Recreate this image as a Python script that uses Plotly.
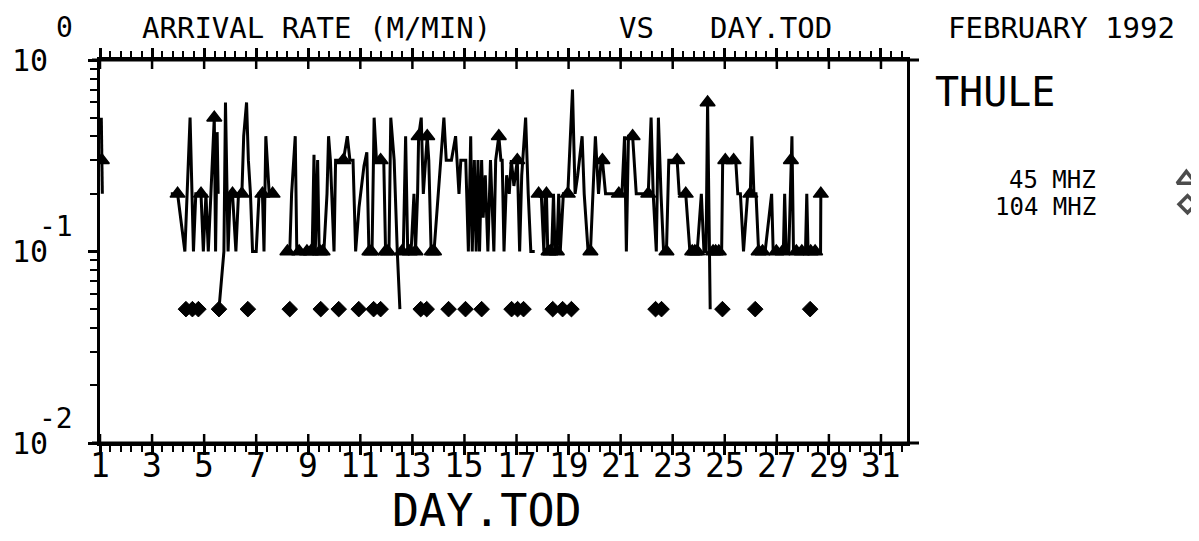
import math
import plotly.graph_objects as go

# ---------------- data ----------------
# 45 MHz arrival rate (M/MIN) vs day of February 1992; None = break in the trace
DAY_45 = [
    1.05, 1.07, 1.09, None,
    3.72, 3.98, 4.26, 4.46, 4.59, 4.68, 4.88, 4.97, 5.07, 5.16, 5.26, 5.39, 5.44, 5.50, 5.54, None,
    5.57, 5.76, 5.82, 5.92, 6.00, 6.09, 6.22, 6.32, 6.45, 6.52, 6.63, 6.70, 6.78, 6.86, 7.00, 7.11,
    7.24, 7.30, 7.37, 7.50, 7.63, None,
    8.12, 8.29, 8.36, 8.50, 8.56, 8.75, 8.95, 9.15, 9.22, 9.27, 9.36, 9.42, 9.60, 9.72, 9.78, 9.85,
    9.99, 10.05, 10.20, 10.35, 10.50, 10.60, 10.72, 10.82, 10.95, 11.14, 11.25, 11.33, 11.45, 11.53,
    11.62, 11.78, 11.90, 11.97, 12.10, 12.17, 12.30, 12.42, 12.52, None,
    12.55, 12.65, 12.74, 12.82, 12.95, 13.06, 13.12, 13.20, 13.24, 13.34, 13.42, 13.50, 13.57, 13.63,
    13.72, 13.83, 14.09, 14.21, 14.30, 14.50, 14.66, 14.72, 14.79, 14.86, 15.05, 15.15, 15.24, 15.30,
    15.38, 15.45, 15.52, 15.58, 15.66, 15.72, 15.80, 15.90, 16.00, 16.13, 16.20, 16.32, 16.40, 16.45,
    16.52, 16.62, 16.72, 16.80, 16.90, 17.03, 17.12, 17.20, 17.35, 17.45, 17.55, 17.70, None,
    17.82, 17.95, 18.05, 18.10, 18.15, 18.20, 18.35, 18.42, 18.48, 18.55, 18.62, 18.68, 18.80, 18.97,
    19.15, 19.25, 19.35, 19.52, 19.60, 19.75, 19.84, 20.03, 20.15, 20.25, 20.30, 20.42, 20.70, 20.93,
    21.05, 21.15, 21.22, 21.30, 21.46, 21.60, 21.85, 22.06, 22.17, 22.25, 22.37, 22.45, 22.55, 22.65,
    22.76, 22.85, 23.00, 23.17, 23.25, 23.40, 23.50, 23.66, 23.94, 24.10, 24.20, 24.28, 24.34, 24.44, None,
    24.45, 24.60, 24.77, 24.88, 24.92, 25.02, 25.20, 25.34, 25.42, 25.50, 25.60, 25.72, 25.88, 25.98,
    26.04, 26.12, 26.20, 26.30, 26.55, 26.80, 26.86, 27.10, 27.25, 27.30, 27.36, 27.46, 27.54, 27.58,
    27.64, 27.80, 28.10, 28.15, 28.20, 28.50, 28.68, 28.69,
]
RATE_45 = [
    0.5, 0.3, 0.2, None,
    0.2, 0.2, 0.1, 0.5, 0.1, 0.2, 0.2, 0.1, 0.2, 0.1, 0.2, 0.5, 0.1, 0.42, 0.2, None,
    0.05, 0.1, 0.6, 0.1, 0.2, 0.2, 0.1, 0.2, 0.2, 0.4, 0.6, 0.3, 0.2, 0.1, 0.1, 0.2,
    0.2, 0.1, 0.4, 0.2, 0.2, None,
    0.1, 0.1, 0.2, 0.4, 0.1, 0.1, 0.1, 0.1, 0.32, 0.1, 0.3, 0.1, 0.1, 0.2, 0.4, 0.3,
    0.1, 0.3, 0.3, 0.3, 0.4, 0.3, 0.3, 0.1, 0.17, 0.28, 0.33, 0.1, 0.1, 0.5,
    0.3, 0.3, 0.3, 0.1, 0.1, 0.5, 0.3, 0.1, 0.05, None,
    0.1, 0.1, 0.4, 0.1, 0.1, 0.2, 0.1, 0.2, 0.4, 0.5, 0.2, 0.3, 0.4, 0.3,
    0.1, 0.1, 0.3, 0.5, 0.3, 0.3, 0.4, 0.3, 0.2, 0.3, 0.3, 0.1, 0.4, 0.1,
    0.3, 0.1, 0.3, 0.1, 0.3, 0.15, 0.25, 0.1, 0.3, 0.1, 0.3, 0.4, 0.3, 0.3,
    0.1, 0.25, 0.2, 0.3, 0.22, 0.3, 0.1, 0.25, 0.5, 0.2, 0.1, 0.1, None,
    0.2, 0.2, 0.1, 0.2, 0.2, 0.1, 0.1, 0.2, 0.1, 0.1, 0.2, 0.1, 0.2, 0.2,
    0.7, 0.2, 0.25, 0.4, 0.2, 0.1, 0.1, 0.4, 0.2, 0.3, 0.3, 0.2, 0.2, 0.2,
    0.2, 0.4, 0.1, 0.4, 0.4, 0.2, 0.2, 0.2, 0.5, 0.2, 0.1, 0.5, 0.2, 0.1,
    0.1, 0.3, 0.3, 0.3, 0.2, 0.2, 0.2, 0.1, 0.1, 0.2, 0.1, 0.1, 0.6, 0.05, None,
    0.1, 0.1, 0.1, 0.1, 0.3, 0.3, 0.3, 0.3, 0.3, 0.2, 0.2, 0.1, 0.2, 0.2,
    0.4, 0.2, 0.2, 0.1, 0.1, 0.2, 0.1, 0.1, 0.1, 0.2, 0.1, 0.1, 0.3, 0.4,
    0.1, 0.1, 0.1, 0.2, 0.1, 0.1, 0.1, 0.2,
]
# points of the 45 MHz trace that carry the triangle symbol
TRI_DAY = [1.07, 3.98, 4.88, 5.39, 6.09, 6.45, 7.24, 7.63, 8.20, 8.65, 8.95, 9.10, 9.45, 9.55,
           10.35, 11.35, 11.42, 11.78, 11.97, 12.06, 12.60, 12.90, 13.12, 13.24, 13.57, 13.75,
           13.83, 16.32, 17.03, 17.85, 18.15, 18.23, 18.30, 18.55, 18.97, 19.84, 20.30, 20.93,
           21.46, 22.06, 22.76, 23.17, 23.50, 23.75, 23.85, 23.94, 24.34, 24.55, 24.65, 24.77,
           25.02, 25.34, 25.98, 26.30, 26.45, 26.98, 27.22, 27.54, 27.75, 27.96, 28.30, 28.47,
           28.69]
TRI_RATE = [0.3, 0.2, 0.2, 0.5, 0.2, 0.2, 0.2, 0.2, 0.1, 0.1, 0.1, 0.1, 0.1, 0.1,
            0.3, 0.1, 0.1, 0.3, 0.1, 0.1, 0.1, 0.1, 0.1, 0.4, 0.4, 0.1,
            0.1, 0.4, 0.3, 0.2, 0.2, 0.1, 0.1, 0.1, 0.2, 0.1, 0.3, 0.2,
            0.4, 0.2, 0.1, 0.3, 0.2, 0.1, 0.1, 0.1, 0.6, 0.1, 0.1, 0.1,
            0.3, 0.3, 0.2, 0.1, 0.1, 0.1, 0.1, 0.3, 0.1, 0.1, 0.1, 0.1,
            0.2]

# 104 MHz arrival rate (M/MIN)
DAY_104 = [4.30, 4.55, 4.78, 5.57, 6.68, 8.29, 9.48, 10.17, 10.94, 11.51, 11.78, 13.32, 13.55,
           14.39, 15.04, 15.66, 16.81, 17.04, 17.27, 18.39, 18.77, 19.11, 22.34, 22.57, 24.91,
           26.17, 28.28]
RATE_104 = [0.05, 0.05, 0.05, 0.05, 0.05, 0.05, 0.05, 0.05, 0.05, 0.05, 0.05, 0.05, 0.05,
            0.05, 0.05, 0.05, 0.05, 0.05, 0.05, 0.05, 0.05, 0.05, 0.05, 0.05, 0.05,
            0.05, 0.05]

X_RANGE = [1, 32]
X_TICKS = list(range(1, 32, 2))           # 1, 3, ..., 31
Y_DECADES = [1, 0.1, 0.01]
Y_EXP_TEXT = ["0", "-1", "-2"]
RIGHT_TICK = 0.1
TITLE_PARTS = ["ARRIVAL RATE (M/MIN)", "VS", "DAY.TOD", "FEBRUARY 1992"]
STATION = "THULE"
LEGEND_LABELS = ["45 MHZ", "104 MHZ"]
X_TITLE = "DAY.TOD"

# ---------------- layout helpers ----------------
W, H = 1199, 541
OFF = 8                                   # page body margin of the written html
PL, PR, PT, PB = 100, 907, 60, 443        # plot box in screen pixels
FONT = "DejaVu Sans Mono"
INK = "black"
TL = 9                                    # major tick half-length (px)


def px(xp):
    return (xp - OFF) / W


def py(yp):
    return 1 - (yp - OFF) / H


fig = go.Figure()
fig.add_trace(go.Scatter(x=DAY_45, y=RATE_45, mode="lines", connectgaps=False,
                         line=dict(color=INK, width=3), hoverinfo="skip", showlegend=False))
fig.add_trace(go.Scatter(x=TRI_DAY, y=TRI_RATE, mode="markers", hoverinfo="skip", showlegend=False,
                         marker=dict(symbol="triangle-up", size=13, color=INK,
                                     line=dict(width=1.5, color=INK))))
fig.add_trace(go.Scatter(x=DAY_104, y=RATE_104, mode="markers", hoverinfo="skip", showlegend=False,
                         marker=dict(symbol="diamond", size=12, color=INK,
                                     line=dict(width=1, color=INK))))
# legend symbols, on a small hidden subplot in the legend area
fig.add_trace(go.Scatter(x=[0.45, 0.5], y=[0.78, 0.25], xaxis="x2", yaxis="y2",
                         mode="markers", hoverinfo="skip", showlegend=False, cliponaxis=False,
                         marker=dict(symbol=["triangle-up-open", "diamond-open"], size=[16, 13],
                                     color=INK, line=dict(width=3.5, color=INK))))

minor_y_vals = [k * d for d in (0.01, 0.1) for k in range(2, 10)]

fig.update_layout(
    template="none",
    width=W, height=H, margin=dict(l=0, r=0, t=0, b=0, pad=0),
    paper_bgcolor="white", plot_bgcolor="rgba(0,0,0,0)", showlegend=False,
    font=dict(family=FONT, color=INK),
    xaxis=dict(range=X_RANGE, domain=[px(PL), px(PR)], anchor="y", side="bottom",
               automargin=False, showgrid=False, zeroline=False, showline=True,
               linecolor=INK, linewidth=3, mirror="allticks", ticks="outside",
               tickmode="array", tickvals=X_TICKS, ticklen=TL, tickwidth=2.5, tickcolor=INK,
               minor=dict(ticks="outside", tick0=1, dtick=0.4, ticklen=6, tickwidth=2,
                          tickcolor=INK, showgrid=False),
               showticklabels=False),
    yaxis=dict(type="log", range=[-2, 0], domain=[py(PB), py(PT)], anchor="x", side="left",
               automargin=False, showgrid=False, zeroline=False, showline=True,
               linecolor=INK, linewidth=3, mirror=True, ticks="outside", tickmode="array",
               tickvals=Y_DECADES, ticklen=TL, tickwidth=2.5, tickcolor=INK,
               showticklabels=False,
               minor=dict(ticks="outside", tickvals=minor_y_vals, ticklen=7, tickwidth=2,
                          tickcolor=INK, showgrid=False)),
    xaxis2=dict(domain=[px(1176), px(1199)], range=[0, 1], anchor="y2", visible=False,
                fixedrange=True, automargin=False),
    yaxis2=dict(domain=[py(216), py(169)], range=[0, 1], anchor="x2", visible=False,
                fixedrange=True, automargin=False),
)

# inner halves of the crossing major ticks, and the frame lines running past the corners
shapes = []
for t in X_TICKS:
    for edge, sgn in ((PB, -1), (PT, 1)):
        shapes.append(dict(type="line", xref="x", yref="paper", x0=t, x1=t,
                           y0=py(edge), y1=py(edge + sgn * TL), line=dict(color=INK, width=2.5)))
for v in Y_DECADES:
    shapes.append(dict(type="line", xref="paper", yref="y", x0=px(PL), x1=px(PL + TL),
                       y0=math.log10(v), y1=math.log10(v), line=dict(color=INK, width=2.5)))
shapes.append(dict(type="line", xref="paper", yref="y", x0=px(PR - TL), x1=px(PR + TL),
                   y0=math.log10(RIGHT_TICK), y1=math.log10(RIGHT_TICK),
                   line=dict(color=INK, width=2.5)))
for edge in (PT, PB):
    shapes.append(dict(type="line", xref="paper", yref="paper", x0=px(PL - 8), x1=px(PR + 12),
                       y0=py(edge), y1=py(edge), line=dict(color=INK, width=3)))
fig.update_layout(shapes=shapes)

ann = []
# x tick labels
for t in X_TICKS:
    ann.append(dict(xref="x", yref="paper", x=t, y=py(466), text=str(t), xanchor="center",
                    yanchor="middle", showarrow=False, font=dict(family=FONT, size=33, color=INK)))
# y tick labels: "10" with a raised exponent
for v, e in zip(Y_DECADES, Y_EXP_TEXT):
    ann.append(dict(xref="paper", yref="y", x=px(50), y=math.log10(v), text="10",
                    xanchor="right", yanchor="middle", showarrow=False,
                    font=dict(family=FONT, size=30, color=INK)))
    ann.append(dict(xref="paper", yref="y", x=px(64 if e == "0" else 56), y=math.log10(v),
                    text=e, xanchor="center", yanchor="middle",
                    yshift=33 if e == "0" else 25,
                    showarrow=False, font=dict(family=FONT, size=28, color=INK)))
# title row
for txt, xl in zip(TITLE_PARTS, (140, 617, 708, 946)):
    ann.append(dict(xref="paper", yref="paper", x=px(xl), y=py(28), text=txt, xanchor="left",
                    yanchor="middle", showarrow=False, font=dict(family=FONT, size=29, color=INK)))
# station and legend text
ann.append(dict(xref="paper", yref="paper", x=px(933), y=py(92), text=STATION, xanchor="left",
                yanchor="middle", showarrow=False, font=dict(family=FONT, size=40, color=INK)))
for txt, yc in zip(LEGEND_LABELS, (180, 207)):
    ann.append(dict(xref="paper", yref="paper", x=px(1097), y=py(yc), text=txt, xanchor="right",
                    yanchor="middle", showarrow=False, borderpad=0,
                    font=dict(family=FONT, size=24, color=INK)))
# x axis title
ann.append(dict(xref="paper", yref="paper", x=px(487), y=py(510), text=X_TITLE, xanchor="center",
                yanchor="middle", showarrow=False, font=dict(family=FONT, size=45, color=INK)))
fig.update_layout(annotations=ann)

fig.write_html("out.html")
